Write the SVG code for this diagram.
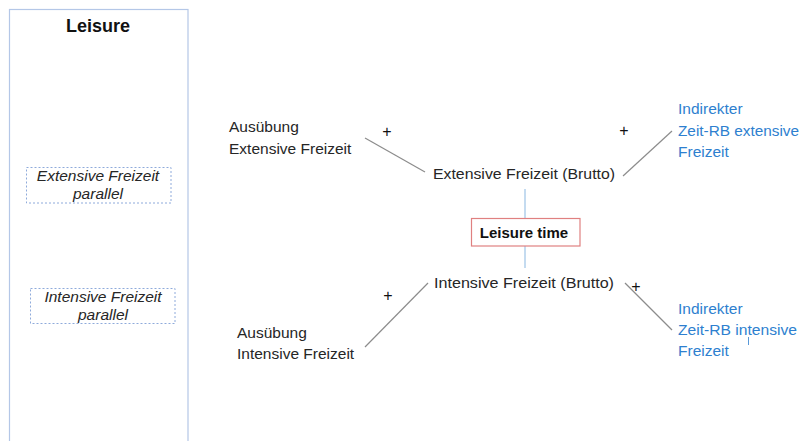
<svg xmlns="http://www.w3.org/2000/svg" width="800" height="441" viewBox="0 0 800 441">
<style>
text{font-family:"Liberation Sans",Arial,sans-serif;font-size:15.5px;fill:#262626}
.b{fill:#2e7fcf}
.i{font-style:italic}
.bold{font-weight:bold;fill:#111}
.p{font-size:16px;fill:#111}
.dash{fill:none;stroke:#8eaadb;stroke-width:1;stroke-dasharray:2,2}
.ln{stroke:#8c8c8c;stroke-width:1.2;fill:none}
.bl{stroke:#9dc3e6;stroke-width:1.2;fill:none}
</style>
<rect width="800" height="441" fill="#fff"/>
<g id="panel">
<rect x="9.5" y="9.5" width="178.5" height="440" fill="#fff" stroke="#b4c7e7" stroke-width="1.2"/>
<text x="98" y="32" text-anchor="middle" class="bold" style="font-size:18px">Leisure</text>
</g>
<g id="ext-parallel">
<rect x="26.5" y="167.5" width="144.5" height="35.5" class="dash"/>
<text x="98" y="181" text-anchor="middle" class="i">Extensive Freizeit</text>
<text x="98" y="199" text-anchor="middle" class="i">parallel</text>
</g>
<g id="int-parallel">
<rect x="30.5" y="288.5" width="144.5" height="35" class="dash"/>
<text x="103" y="302" text-anchor="middle" class="i">Intensive Freizeit</text>
<text x="103" y="320" text-anchor="middle" class="i">parallel</text>
</g>
<g id="connectors">
<line x1="365" y1="138" x2="425" y2="172" class="ln"/>
<line x1="623" y1="176" x2="672" y2="131" class="ln"/>
<line x1="365" y1="347" x2="428" y2="283" class="ln"/>
<line x1="625" y1="283" x2="672" y2="330" class="ln"/>
<line x1="525" y1="189" x2="525" y2="218" class="bl"/>
<line x1="525" y1="246" x2="525" y2="268" class="bl"/>
<line x1="748.5" y1="337" x2="748.5" y2="345" stroke="#2e7fcf" stroke-width="0.8"/>
<text x="387" y="137" text-anchor="middle" class="p">+</text>
<text x="624" y="136" text-anchor="middle" class="p">+</text>
<text x="388" y="301" text-anchor="middle" class="p">+</text>
<text x="636" y="292" text-anchor="middle" class="p">+</text>
</g>
<g id="ausuebung-ext">
<text x="229" y="132">Ausübung</text>
<text x="229" y="154">Extensive Freizeit</text>
</g>
<g id="ext-brutto">
<text x="433" y="179" textLength="182" lengthAdjust="spacingAndGlyphs">Extensive Freizeit (Brutto)</text>
</g>
<g id="indirekt-ext">
<text x="678" y="114" class="b">Indirekter</text>
<text x="678" y="136" class="b" textLength="121" lengthAdjust="spacingAndGlyphs">Zeit-RB extensive</text>
<text x="678" y="157" class="b">Freizeit</text>
</g>
<g id="leisure-time">
<rect x="471.5" y="218.5" width="108.5" height="27.5" fill="#fff" stroke="#e08080" stroke-width="1.2"/>
<text x="524" y="238" text-anchor="middle" class="bold" style="font-size:15px">Leisure time</text>
</g>
<g id="int-brutto">
<text x="434" y="288" textLength="180" lengthAdjust="spacingAndGlyphs">Intensive Freizeit (Brutto)</text>
</g>
<g id="ausuebung-int">
<text x="237" y="338">Ausübung</text>
<text x="237" y="359">Intensive Freizeit</text>
</g>
<g id="indirekt-int">
<text x="678" y="314" class="b">Indirekter</text>
<text x="678" y="335" class="b" textLength="119" lengthAdjust="spacingAndGlyphs">Zeit-RB intensive</text>
<text x="678" y="356" class="b">Freizeit</text>
</g>
</svg>
